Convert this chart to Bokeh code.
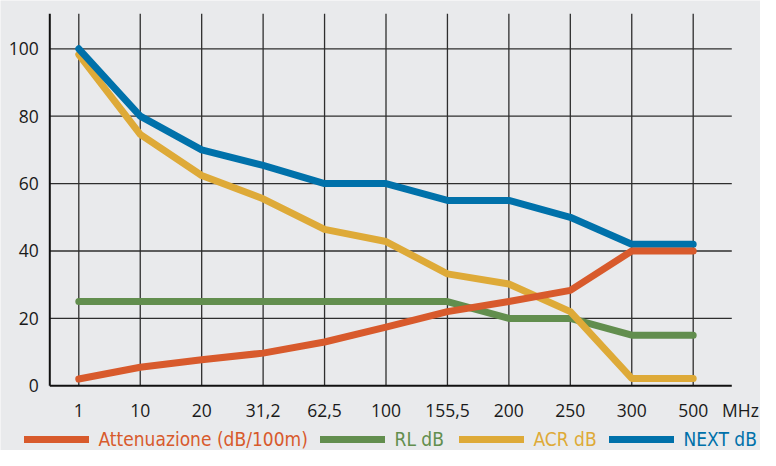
from bokeh.plotting import figure
from bokeh.models import FixedTicker, Legend, LegendItem, Range1d
from bokeh.embed import file_html
from bokeh.resources import INLINE

categories = ["1", "10", "20", "31,2", "62,5", "100", "155,5", "200", "250", "300", "500"]
attenuazione = [2, 5.5, 7.7, 9.7, 13, 17.4, 22, 25, 28.3, 40, 40]
rl = [25, 25, 25, 25, 25, 25, 25, 20, 20, 15, 15]
acr = [98.3, 74.6, 62.4, 55.5, 46.4, 42.8, 33.2, 30.2, 22, 2.2, 2.2]
next_db = [100, 80, 70, 65.4, 60, 60, 55, 55, 50, 42, 42]
y_ticks = [0, 20, 40, 60, 80, 100]
unit_label = "MHz"

C_ORANGE = "#d85a2c"
C_GREEN = "#628e4e"
C_YELLOW = "#deaa38"
C_BLUE = "#0071aa"
BG = "#e9eaec"
GRID = "#2e2e2e"
AXIS = "#111111"

xs = list(range(len(categories)))
# plot-area limits (data units)
X_AXIS_POS, X_GRID_END = -0.472, 10.628
Y_TOP = 110.4
UNIT_POS = 10.77

p = figure(width=760, height=450, output_backend="svg", toolbar_location=None,
           x_range=Range1d(-1.2744, 11.0954), y_range=Range1d(-19.2, 114.33),
           min_border_left=0, min_border_right=0, min_border_top=0, min_border_bottom=0)
p.background_fill_color = BG
p.border_fill_color = BG
p.outline_line_color = None
p.grid.visible = False

# axes (fixed inside the frame)
p.xaxis.fixed_location = 0
p.yaxis.fixed_location = X_AXIS_POS
p.xaxis.ticker = FixedTicker(ticks=xs + [UNIT_POS])
overrides = {i: c for i, c in enumerate(categories)}
overrides[UNIT_POS] = unit_label
p.xaxis.major_label_overrides = overrides
p.yaxis.ticker = FixedTicker(ticks=y_ticks)
for ax in (p.xaxis[0], p.yaxis[0]):
    ax.axis_line_color = None
    ax.major_tick_line_color = None
    ax.minor_tick_line_color = None
    ax.major_tick_out = 0
    ax.major_tick_in = 0
    ax.major_label_text_font = "Open Sans"
    ax.major_label_text_font_size = "17.5px"
    ax.major_label_text_color = "#1a1a1a"
p.xaxis.major_label_standoff = 12
p.yaxis.major_label_standoff = 11

# grid lines limited to the plot area
h_ticks = [t for t in y_ticks if t > 0]
p.segment(x0=[X_AXIS_POS] * len(h_ticks), x1=[X_GRID_END] * len(h_ticks), y0=h_ticks, y1=h_ticks,
          line_color=GRID, line_width=1.3)
p.segment(x0=xs, x1=xs, y0=[0] * len(xs), y1=[Y_TOP] * len(xs), line_color=GRID, line_width=1.3)
# axis lines
p.segment(x0=[X_AXIS_POS], x1=[X_GRID_END], y0=[0], y1=[0], line_color=AXIS, line_width=2)
p.segment(x0=[X_AXIS_POS], x1=[X_AXIS_POS], y0=[0], y1=[Y_TOP], line_color=AXIS, line_width=2)

series = [
    ("RL dB", rl, C_GREEN),
    ("ACR dB", acr, C_YELLOW),
    ("NEXT dB", next_db, C_BLUE),
    ("Attenuazione (dB/100m)", attenuazione, C_ORANGE),
]
renderers = {}
for name, vals, col in series:
    renderers[name] = p.line(xs, vals, line_color=col, line_width=7,
                             line_cap="round", line_join="round")

legend_spec = [
    ("Attenuazione (dB/100m)", C_ORANGE, 23.5),
    ("RL dB", C_GREEN, 319.5),
    ("ACR dB", C_YELLOW, 458.5),
    ("NEXT dB", C_BLUE, 608.5),
]
for name, col, lx in legend_spec:
    lg = Legend(items=[LegendItem(label=name, renderers=[renderers[name]])], location=(lx, 0),
                orientation="horizontal", padding=0, margin=0,
                glyph_width=65, glyph_height=20, label_height=20, label_standoff=10,
                label_text_font="'DejaVu Sans Condensed', Lato", label_text_font_size="19px",
                label_text_color=col, background_fill_alpha=0, border_line_color=None)
    p.add_layout(lg)

open("out.html", "w").write(file_html(p, INLINE))
